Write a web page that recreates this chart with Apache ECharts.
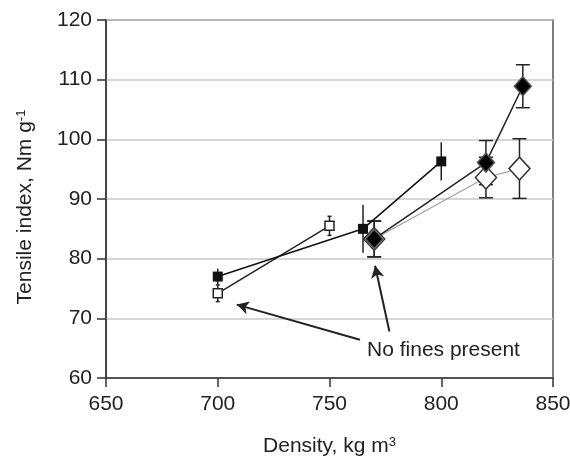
<!DOCTYPE html>
<html><head><meta charset="utf-8">
<script src="https://cdn.jsdelivr.net/npm/echarts@6/dist/echarts.min.js"></script>
<style>html,body{margin:0;padding:0;background:#fff}#c{width:570px;height:459px}</style>
</head><body><div id="c"></div>
<script>
const xTicks = [650, 700, 750, 800, 850];
const yTicks = [60, 70, 80, 90, 100, 110, 120];

const sqFilledX = [700, 765, 800];
const sqFilledY = [77, 85, 96.3];
const sqFilledErr = [1.3, 4, 3.2];

const sqOpenX = [700, 750];
const sqOpenY = [74.2, 85.5];
const sqOpenErr = [1.4, 1.6];

const diaFilledX = [770, 820, 836.5];
const diaFilledY = [83.3, 96.1, 108.9];
const diaFilledErr = [3, 3.7, 3.6];

const diaOpenX = [770, 820, 835];
const diaOpenY = [83.3, 93.6, 95.1];
const diaOpenErr = [3, 3.4, 5];

const noteText = 'No fines present';
const notePos = [801, 64.6];
const arrows = [
  [[763.6, 66.4], [708.5, 72.3]],
  [[776.8, 67.8], [770.4, 78.8]]
];

const FONT = 'Liberation Sans, Arial, sans-serif';
const pts = (xs, ys) => xs.map((x, i) => [x, ys[i]]);
const errs = (xs, ys, es) => xs.map((x, i) => [x, ys[i] - es[i], ys[i] + es[i]]);

function errSeries(data, cap, z) {
  return {
    type: 'custom', z: z, silent: true,
    data: data,
    encode: { x: 0, y: [1, 2] },
    renderItem: function (params, api) {
      const lo = api.coord([api.value(0), api.value(1)]);
      const hi = api.coord([api.value(0), api.value(2)]);
      const st = { stroke: '#222', lineWidth: 1.5 };
      const ch = [{ type: 'line', shape: { x1: lo[0], y1: lo[1], x2: hi[0], y2: hi[1] }, style: st }];
      if (cap > 0) {
        ch.push({ type: 'line', shape: { x1: lo[0] - cap, y1: lo[1], x2: lo[0] + cap, y2: lo[1] }, style: st });
        ch.push({ type: 'line', shape: { x1: hi[0] - cap, y1: hi[1], x2: hi[0] + cap, y2: hi[1] }, style: st });
      }
      return { type: 'group', children: ch };
    }
  };
}

const chart = echarts.init(document.getElementById('c'));
chart.setOption({
  animation: false,
  backgroundColor: '#fff',
  grid: { left: 106, right: 17, top: 20, bottom: 81, show: true, borderColor: '#555', borderWidth: 1.5, containLabel: false, outerBoundsMode: 'none' },
  xAxis: {
    type: 'value', min: xTicks[0], max: xTicks[xTicks.length - 1], interval: 50,
    axisLine: { lineStyle: { color: '#333', width: 1.5 } },
    axisTick: { show: true, length: 9, lineStyle: { color: '#333', width: 1.5 } },
    axisLabel: { color: '#222', fontSize: 21, fontFamily: FONT, margin: 16 },
    splitLine: { show: false },
    name: '{a|Density, kg m}{s|3}', nameLocation: 'middle', nameGap: 58,
    nameTextStyle: { rich: { a: { fontSize: 21, color: '#222', fontFamily: FONT }, s: { fontSize: 13, color: '#222', fontFamily: FONT, verticalAlign: 'top', padding: [0, 0, 8, 0] } } }
  },
  yAxis: {
    type: 'value', min: yTicks[0], max: yTicks[yTicks.length - 1], interval: 10,
    axisLine: { show: true, lineStyle: { color: '#333', width: 1.5 } },
    axisTick: { show: true, length: 9, lineStyle: { color: '#333', width: 1.5 } },
    axisLabel: { color: '#222', fontSize: 21, fontFamily: FONT, margin: 14 },
    splitLine: { show: true, lineStyle: { color: '#c8c8c8', width: 1.5 } },
    name: '{a|Tensile index, Nm g}{s|-1}', nameLocation: 'middle', nameGap: 70, nameRotate: 90,
    nameTextStyle: { padding: [0, 16, 0, 0], rich: { a: { fontSize: 21, color: '#222', fontFamily: FONT }, s: { fontSize: 13, color: '#222', fontFamily: FONT, verticalAlign: 'top', padding: [0, 0, 8, 0] } } }
  },
  series: [
    errSeries(errs(sqFilledX, sqFilledY, sqFilledErr), 0, 2),
    errSeries(errs(sqOpenX, sqOpenY, sqOpenErr), 2, 2),
    errSeries(errs(diaOpenX, diaOpenY, diaOpenErr), 7, 2),
    errSeries(errs(diaFilledX, diaFilledY, diaFilledErr), 7, 2),
    {
      type: 'line', z: 3, data: pts(sqOpenX, sqOpenY),
      symbol: 'rect', symbolSize: 9, showSymbol: true,
      lineStyle: { color: '#222', width: 1.5 },
      itemStyle: { color: '#fff', borderColor: '#222', borderWidth: 1.5 }
    },
    {
      type: 'line', z: 3, data: pts(sqFilledX, sqFilledY),
      symbol: 'rect', symbolSize: 10,
      lineStyle: { color: '#111', width: 1.5 },
      itemStyle: { color: '#111', borderColor: '#111', borderWidth: 0 }
    },
    {
      type: 'line', z: 4, data: pts(diaOpenX, diaOpenY),
      symbol: 'diamond', symbolSize: [21, 23],
      lineStyle: { color: '#a0a0a0', width: 1.2 },
      itemStyle: { color: '#fff', borderColor: '#333', borderWidth: 1.5 }
    },
    {
      type: 'line', z: 5, data: pts(diaFilledX, diaFilledY),
      symbol: 'diamond', symbolSize: [17, 19],
      lineStyle: { color: '#222', width: 1.5 },
      itemStyle: { color: '#000', borderColor: '#555', borderWidth: 1.5 },
      markLine: {
        silent: true, symbol: ['none', 'arrow'], symbolSize: [10, 12],
        lineStyle: { color: '#222', width: 2, type: 'solid' },
        label: { show: false },
        data: arrows.map(a => [{ coord: a[0] }, { coord: a[1] }])
      },
      markPoint: {
        silent: true, symbol: 'circle', symbolSize: 0,
        label: { show: true, position: 'inside', formatter: noteText, color: '#222', fontSize: 21, fontFamily: FONT },
        data: [{ coord: notePos }]
      }
    }
  ]
});
</script></body></html>
